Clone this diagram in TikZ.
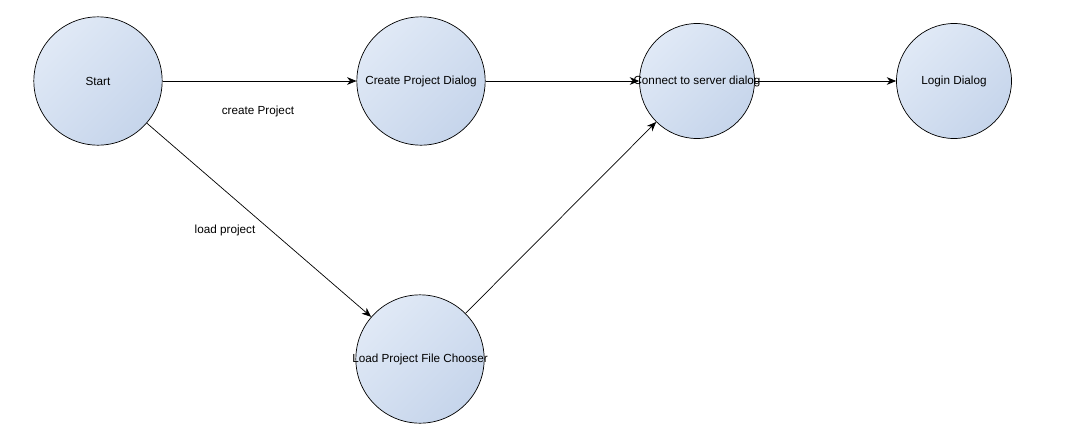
\documentclass[tikz,border=0pt]{standalone}
\usepackage{fontspec}
\setmainfont{Liberation Sans}
\usepackage{tikz}
\usetikzlibrary{arrows.meta}
\definecolor{statelight}{HTML}{E0E9F6}
\definecolor{statedark}{HTML}{C6D5EB}

\begin{document}
\begin{tikzpicture}[
  x=0.03cm, y=-0.03cm,
  state/.style={circle, draw=black, line width=0.6pt, inner sep=0pt,
                left color=statelight, right color=statedark, shading angle=45,
                font=\fontsize{10}{12}\selectfont},
  small/.style={state, minimum size=3.45cm},
  big/.style={state, minimum size=3.85cm},
  arrow/.style={-{Stealth[length=8pt, width=6.5pt, inset=2.5pt]}, line width=0.6pt},
  lbl/.style={font=\fontsize{10}{12}\selectfont, inner sep=1pt},
]
  \useasboundingbox (0,0) rectangle (1070,439);

  \node[big] (start) at (98,81)    {\makebox[0pt]{Start}};
  \node[big] (create) at (421,81)  {\makebox[0pt]{Create Project Dialog}};
  \node[small] (connect) at (697,81) {\makebox[0pt]{Connect to server dialog}};
  \node[small] (login) at (954,81) {\makebox[0pt]{Login Dialog}};
  \node[big] (load) at (420,359)   {\makebox[0pt]{Load Project File Chooser}};

  \node[lbl] (lcreate) at (258,111) {create Project};
  \node[lbl] (lload) at (225,230)   {load project};

  \draw[arrow] (start) -- (create);
  \draw[arrow] (create) -- (connect);
  \draw[arrow] (connect) -- (login);
  \draw[arrow] (start) -- (load);
  \draw[arrow] (load) -- (connect);
\end{tikzpicture}
\end{document}
